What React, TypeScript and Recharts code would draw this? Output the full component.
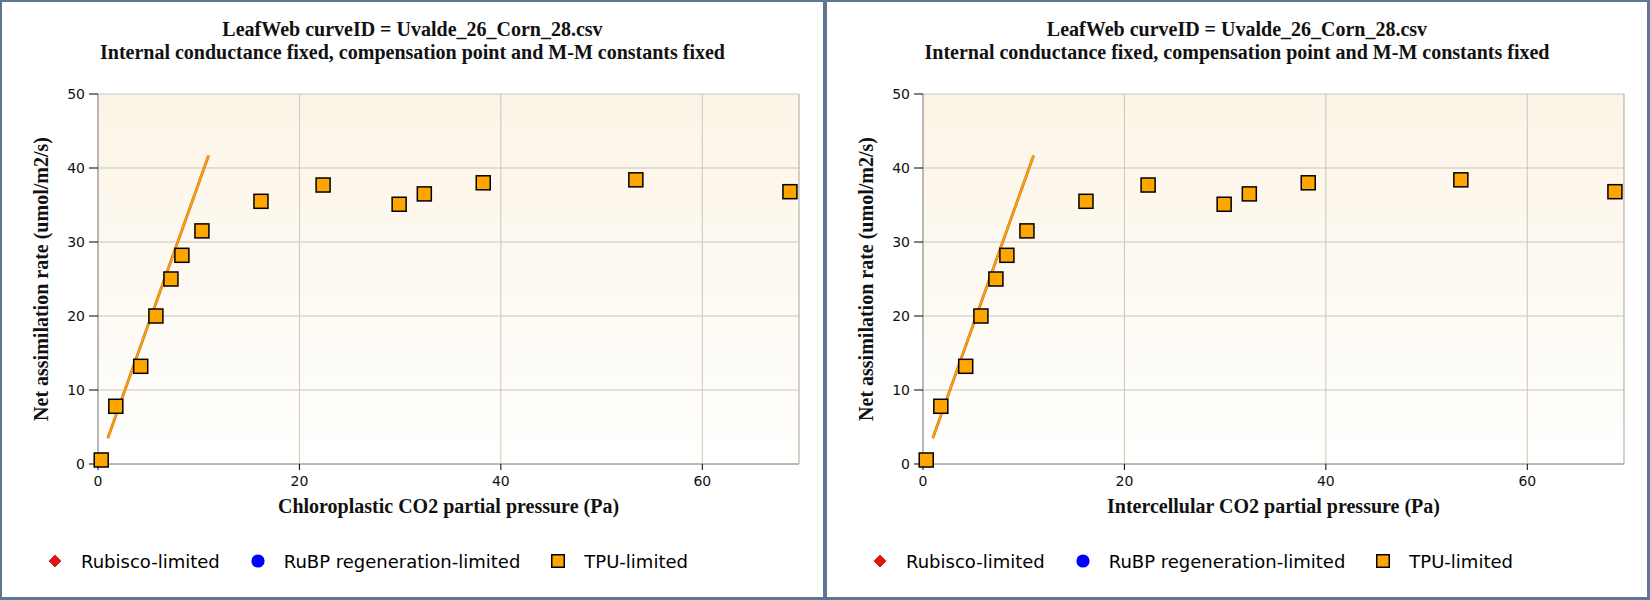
import React from 'react';
import { ScatterChart, Scatter, XAxis, YAxis, CartesianGrid, Legend, ReferenceLine } from 'recharts';

// ---- data ----
const obsX = [0.32, 1.77, 4.24, 5.75, 7.24, 8.33, 10.32, 16.18, 22.35, 29.9, 32.4, 38.25, 53.4, 68.7];
const obsY = [0.54, 7.8, 13.2, 20.0, 25.0, 28.2, 31.5, 35.5, 37.7, 35.1, 36.5, 38.0, 38.4, 36.8];
const fitX = [0.97, 10.98];
const fitY = [3.48, 41.7];
const xTicks = [0, 20, 40, 60];
const yTicks = [0, 10, 20, 30, 40, 50];
const xMax = 69.6;
const yMax = 50;
const titleLines = [
  'LeafWeb curveID = Uvalde_26_Corn_28.csv',
  'Internal conductance fixed, compensation point and M-M constants fixed',
];
const yLabel = 'Net assimilation rate (umol/m2/s)';
const xLabels = ['Chloroplastic CO2 partial pressure (Pa)', 'Intercellular CO2 partial pressure (Pa)'];
const seriesNames = ['Rubisco-limited', 'RuBP regeneration-limited', 'TPU-limited'];

const obsData = obsX.map((x, i) => ({ x, y: obsY[i] }));
const fitData = fitX.map((x, i) => ({ x, y: fitY[i] }));

const SERIF = '"Liberation Serif", "Times New Roman", serif';
const SANS = '"DejaVu Sans", Verdana, sans-serif';
const FRAME = '#5e7593';

const Square = (p: any) => (
  <rect x={p.cx - 7} y={p.cy - 7} width={14} height={14} fill="#ffa500" stroke="#000" strokeWidth={1.5} />
);
const NoShape = () => <g />;

const LegendIcon = ({ type, color }: { type: string; color: string }) => (
  <svg width={14} height={14} style={{ display: 'block' }}>
    {type === 'diamond' && <polygon points="7,1 13,7 7,13 1,7" fill={color} stroke="#700" strokeWidth={0.6} />}
    {type === 'circle' && <circle cx={7} cy={7} r={6.6} fill={color} />}
    {type === 'square' && <rect x={0.75} y={0.75} width={12.5} height={12.5} fill={color} stroke="#000" strokeWidth={1.5} />}
  </svg>
);

const renderLegend = (props: any) => {
  const items = (props.payload || [])
    .filter((e: any) => e.type !== 'none')
    .slice()
    .sort((a: any, b: any) => seriesNames.indexOf(a.value) - seriesNames.indexOf(b.value));
  return (
    <div
      style={{
        display: 'flex',
        alignItems: 'center',
        height: 48,
        paddingLeft: 46,
        boxSizing: 'border-box',
        fontFamily: SANS,
        fontSize: 18,
        color: '#000',
      }}
    >
      {items.map((e: any, i: number) => (
        <div key={i} style={{ display: 'flex', alignItems: 'center', marginRight: 31 }}>
          <LegendIcon type={e.type} color={e.color} />
          <span style={{ marginLeft: 19, whiteSpace: 'nowrap' }}>{e.value}</span>
        </div>
      ))}
    </div>
  );
};

function Panel({ left, width, xLabel, id }: { left: number; width: number; xLabel: string; id: string }) {
  const H = 595;
  return (
    <div style={{ position: 'absolute', left, top: 2, width, height: H, background: '#fff' }}>
      <div
        style={{
          position: 'absolute',
          left: 0,
          top: 16,
          width,
          textAlign: 'center',
          fontFamily: SERIF,
          fontWeight: 'bold',
          fontSize: 20,
          lineHeight: '23.3px',
          color: '#111',
        }}
      >
        {titleLines.map((t, i) => (
          <div key={i}>{t}</div>
        ))}
      </div>
      <div style={{ position: 'absolute', left: 0, top: 0 }}>
        <ScatterChart width={width} height={H} margin={{ top: 92, right: width - 96 - 701, bottom: 0, left: 0 }}>
          <defs>
            <linearGradient id={`bg${id}`} x1="0" y1="0" x2="0" y2="1">
              <stop offset="0" stopColor="#fcf4e6" />
              <stop offset="1" stopColor="#fffffe" />
            </linearGradient>
          </defs>
          <CartesianGrid fill={`url(#bg${id})`} fillOpacity={1} stroke="#c9c6bf" strokeWidth={1} />
          <XAxis
            type="number"
            dataKey="x"
            domain={[0, xMax]}
            ticks={xTicks}
            height={73}
            tickSize={6}
            tickMargin={6}
            axisLine={{ stroke: '#8e8e8e' }}
            tickLine={{ stroke: '#000' }}
            tick={{ fill: '#111', fontSize: 14, fontFamily: SANS }}
            label={(p: any) => {
              const vb = p.viewBox || { x: 96, y: 462, width: 701 };
              return (
                <text
                  x={vb.x + vb.width / 2}
                  y={vb.y + 49.3}
                  textAnchor="middle"
                  fontFamily={SERIF}
                  fontWeight="bold"
                  fontSize={20}
                  fill="#111"
                >
                  {xLabel}
                </text>
              );
            }}
          />
          <YAxis
            type="number"
            dataKey="y"
            domain={[0, yMax]}
            ticks={yTicks}
            width={96}
            tickSize={9}
            tickMargin={4}
            axisLine={{ stroke: '#8e8e8e' }}
            tickLine={{ stroke: '#000' }}
            tick={{ fill: '#111', fontSize: 14, fontFamily: SANS }}
            label={(p: any) => {
              const vb = p.viewBox || { x: 0, y: 92, height: 370 };
              const cx = vb.x + 46;
              const cy = vb.y + vb.height / 2;
              return (
                <text
                  x={cx}
                  y={cy}
                  transform={`rotate(-90, ${cx}, ${cy})`}
                  textAnchor="middle"
                  fontFamily={SERIF}
                  fontWeight="bold"
                  fontSize={20}
                  fill="#111"
                >
                  {yLabel}
                </text>
              );
            }}
          />
          <ReferenceLine x={xMax} stroke="#c2bfb8" strokeWidth={1} />
          <Legend
            verticalAlign="bottom"
            align="left"
            content={renderLegend}
            wrapperStyle={{ height: 60, left: 0, width }}
          />
          <Scatter name={seriesNames[0]} data={[]} fill="#ee1111" legendType="diamond" isAnimationActive={false} />
          <Scatter name={seriesNames[1]} data={[]} fill="#0000ff" legendType="circle" isAnimationActive={false} />
          <Scatter
            name="fit-under"
            data={fitData}
            line={{ stroke: '#c0702e', strokeWidth: 2.8 }}
            shape={NoShape}
            legendType="none"
            isAnimationActive={false}
          />
          <Scatter
            name="fit"
            data={fitData}
            line={{ stroke: '#ffa000', strokeWidth: 1.8 }}
            shape={NoShape}
            legendType="none"
            isAnimationActive={false}
          />
          <Scatter
            name={seriesNames[2]}
            data={obsData}
            fill="#ffa500"
            shape={Square}
            legendType="square"
            isAnimationActive={false}
          />
        </ScatterChart>
      </div>
    </div>
  );
}

export default function App() {
  return (
    <div style={{ position: 'fixed', left: 0, top: 0, width: 1650, height: 600, background: FRAME, overflow: 'hidden' }}>
      <Panel left={2} width={821} xLabel={xLabels[0]} id="a" />
      <Panel left={827} width={820} xLabel={xLabels[1]} id="b" />
    </div>
  );
}
